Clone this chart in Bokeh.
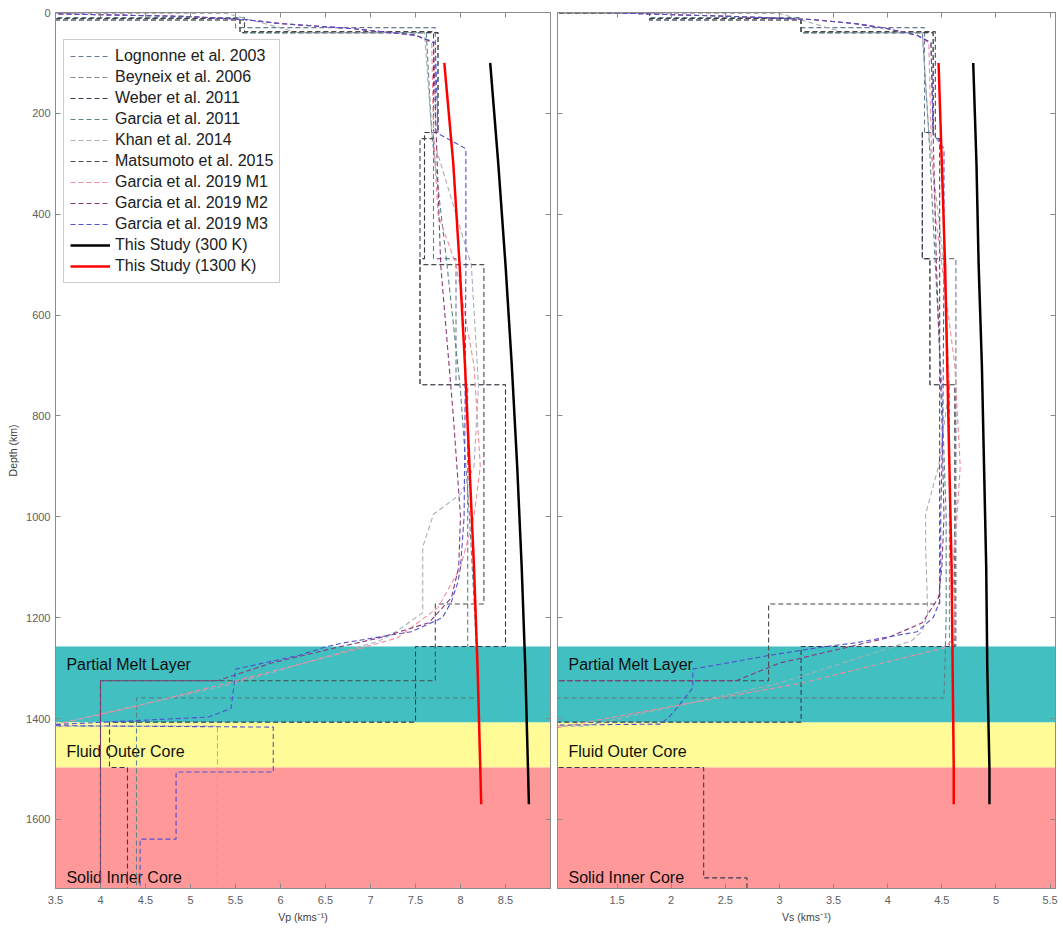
from bokeh.plotting import figure
from bokeh.models import Range1d, LinearAxis, FixedTicker, Legend, LegendItem
from bokeh.layouts import row
from bokeh.embed import file_html
from bokeh.resources import INLINE
from bokeh.core.properties import value

# ---------------- data ----------------
DEPTH_MAX = 1737
VP_RANGE = (3.5, 9.0)
VS_RANGE = (0.95, 5.55)
VP_TICKS = [3.5, 4, 4.5, 5, 5.5, 6, 6.5, 7, 7.5, 8, 8.5]
VS_TICKS = [1.5, 2, 2.5, 3, 3.5, 4, 4.5, 5, 5.5]
DEPTH_TICKS = [0, 200, 400, 600, 800, 1000, 1200, 1400, 1600]

LAYER_NAMES = ["Partial Melt Layer", "Fluid Outer Core", "Solid Inner Core"]
LAYER_TOP = [1257, 1407, 1497]
LAYER_BOTTOM = [1407, 1497, 1737]
LAYER_COLORS = ["#42bfc1", "#fffb96", "#ff9999"]
LAYER_LABEL_DEPTH = [1292, 1466, 1716]

# layered (step) models: boundaries + per-layer values
LOG_BOUNDS = [0, 1, 15, 30, 238, 488, 738, 1257]
LOG_VP = [1.0, 3.2, 5.5, 7.72, 7.7, 7.95, 8.08]
LOG_VS = [0.6, 1.8, 3.2, 4.34, 4.32, 4.63, 4.63]

BEY_BOUNDS = [0, 1, 12, 40, 238, 488, 738, 1257]
BEY_VP = [1.0, 3.2, 5.55, 7.75, 7.6, 7.55, 8.5]
BEY_VS = [0.6, 1.8, 3.2, 4.42, 4.32, 4.39, 4.57]

WEB_BOUNDS = [0, 1, 12, 40, 238, 488, 738, 1257, 1407, 1497, 1716, 1737]
WEB_VP = [1.0, 3.2, 5.55, 7.75, 7.6, 7.55, 8.5, 7.5, 4.1, 4.3, 4.3]
WEB_VS = [0.6, 1.8, 3.2, 4.42, 4.32, 4.39, 4.62, 3.2, 0.0, 2.3, 2.7]

MAT_BOUNDS = [0, 1, 15, 38, 250, 500, 1173, 1325, 1737]
MAT_VP = [1.0, 3.2, 5.6, 7.7, 7.55, 8.26, 7.72, 4.0]
MAT_VS = [0.6, 1.8, 3.2, 4.44, 4.48, 4.48, 2.9, 0.0]

# profile models: depth nodes + values
GAR11_D = [0, 1, 1, 10, 10, 40, 40, 240, 500, 750, 1000, 1200, 1359, 1359, 1737]
GAR11_VP = [1.0, 1.0, 3.2, 3.2, 5.6, 5.6, 7.62, 7.68, 7.85, 8.0, 8.1, 8.16, 8.2, 4.4, 4.4]
GAR11_VS = [0.6, 0.6, 1.8, 1.8, 3.2, 3.2, 4.32, 4.38, 4.44, 4.5, 4.54, 4.54, 4.52, 0.0, 0.0]

KHAN_D = [0, 2, 2, 40, 40, 240, 500, 740, 900, 955, 995, 1060, 1190, 1226, 1246, 1330, 1415, 1415, 1737]
KHAN_VP = [2.0, 2.0, 5.4, 6.2, 7.6, 7.68, 8.12, 8.2, 8.15, 8.0, 7.7, 7.58, 7.58, 7.3, 7.1, 5.5, 3.4, 5.3, 5.3]
KHAN_VS = [1.0, 1.0, 3.0, 3.6, 4.32, 4.38, 4.52, 4.57, 4.47, 4.4, 4.35, 4.35, 4.37, 4.32, 4.22, 3.0, 1.2, 0.0, 0.0]

G19M1_D = [0, 3, 8, 14, 22, 32, 45, 60, 240, 400, 500, 700, 900, 1000, 1100, 1180, 1240, 1260, 1330, 1380, 1420]
G19M1_VP = [3.0, 3.6, 5.0, 5.6, 6.0, 6.8, 7.5, 7.68, 7.7, 7.75, 7.95, 8.15, 8.22, 8.15, 8.0, 7.75, 7.3, 6.9, 5.4, 4.3, 3.3]
G19M1_VS = [1.4, 1.8, 2.6, 3.3, 3.7, 4.0, 4.27, 4.38, 4.4, 4.44, 4.5, 4.62, 4.67, 4.64, 4.6, 4.62, 4.62, 4.52, 3.2, 1.9, 0.9]

G19M2_D = [0, 3, 8, 14, 22, 32, 45, 60, 240, 500, 800, 1000, 1100, 1160, 1210, 1240, 1260, 1290, 1325, 1325, 1737]
G19M2_VP = [3.0, 3.6, 5.0, 5.6, 6.0, 6.8, 7.5, 7.7, 7.73, 7.78, 7.92, 8.0, 7.98, 7.9, 7.65, 7.1, 6.6, 5.9, 5.3, 4.0, 4.0]
G19M2_VS = [1.4, 1.8, 2.6, 3.3, 3.7, 4.0, 4.27, 4.4, 4.42, 4.45, 4.5, 4.52, 4.5, 4.47, 4.32, 4.0, 3.6, 3.0, 2.6, 0.0, 0.0]

G19M3_D = [0, 3, 8, 14, 22, 32, 45, 60, 240, 270, 500, 800, 1000, 1100, 1130, 1168, 1200, 1228, 1250, 1258, 1275,
           1302, 1339, 1380, 1397, 1411, 1414, 1417, 1506, 1506, 1639, 1639, 1737]
G19M3_VP = [3.0, 3.6, 5.0, 5.6, 6.0, 6.8, 7.5, 7.72, 7.75, 8.06, 8.06, 8.05, 8.04, 8.0, 7.97, 7.9, 7.8, 7.45, 6.7, 6.5, 6.2,
            5.5, 5.48, 5.45, 5.2, 3.6, 3.4, 5.92, 5.92, 4.84, 4.84, 4.44, 4.44]
G19M3_VS = [1.4, 1.8, 2.6, 3.3, 3.7, 4.0, 4.27, 4.4, 4.42, 4.52, 4.52, 4.51, 4.49, 4.49, 4.48, 4.48, 4.42, 4.27, 3.7, 3.4, 2.9,
            2.2, 2.2, 2.05, 1.98, 1.9, 0.5, 0.0, 0.0, 0.0, 0.0, 0.0, 0.0]

# This study
TS_D = [100, 300, 500, 700, 900, 1100, 1300, 1500, 1570]
TS300_VP = [8.33, 8.42, 8.50, 8.57, 8.63, 8.68, 8.72, 8.75, 8.76]
TS1300_VP = [7.82, 7.92, 7.99, 8.05, 8.10, 8.15, 8.19, 8.22, 8.23]
TS300_VS = [4.79, 4.82, 4.84, 4.87, 4.89, 4.91, 4.92, 4.94, 4.94]
TS1300_VS = [4.47, 4.50, 4.53, 4.55, 4.57, 4.59, 4.60, 4.61, 4.61]

MODEL_NAMES = ["Lognonne et al. 2003", "Beyneix et al. 2006", "Weber et al. 2011", "Garcia et al. 2011",
               "Khan et al. 2014", "Matsumoto et al. 2015", "Garcia et al. 2019 M1", "Garcia et al. 2019 M2",
               "Garcia et al. 2019 M3"]
MODEL_COLORS = ["#6a7898", "#8c8c8c", "#3a3a4c", "#5a8585", "#a7aeb8", "#4a4a4a", "#f08c9c", "#8a3a7c", "#5050d0"]
TS_NAMES = ["This Study (300 K)", "This Study (1300 K)"]
TS_COLORS = ["#000000", "#ff0000"]

FONT = "Liberation Sans"
FRAME_COLOR = "#8a8a8a"


def steps(bounds, vals):
    d, v = [], []
    for i, val in enumerate(vals):
        d += [bounds[i], bounds[i + 1]]
        v += [val, val]
    return d, v


def model_profiles():
    out = []
    for b, vp, vs in [(LOG_BOUNDS, LOG_VP, LOG_VS), (BEY_BOUNDS, BEY_VP, BEY_VS), (WEB_BOUNDS, WEB_VP, WEB_VS)]:
        d, p = steps(b, vp)
        _, s = steps(b, vs)
        out.append((d, p, s))
    out.append((GAR11_D, GAR11_VP, GAR11_VS))
    out.append((KHAN_D, KHAN_VP, KHAN_VS))
    d, p = steps(MAT_BOUNDS, MAT_VP)
    _, s = steps(MAT_BOUNDS, MAT_VS)
    out.append((d, p, s))
    out.append((G19M1_D, G19M1_VP, G19M1_VS))
    out.append((G19M2_D, G19M2_VP, G19M2_VS))
    out.append((G19M3_D, G19M3_VP, G19M3_VS))
    return out


PROFILES = model_profiles()


def hide_labels(ax):
    ax.major_label_text_color = None
    ax.major_label_text_font_size = "10px"
    ax.major_label_standoff = 0
    ax.axis_label = None


def tick_axis(ticks):
    ax = LinearAxis(ticker=FixedTicker(ticks=ticks), major_tick_in=5, major_tick_out=0,
                    minor_tick_line_color=None, axis_line_color=FRAME_COLOR, major_tick_line_color=FRAME_COLOR)
    hide_labels(ax)
    return ax


def make_panel(xr, xticks, which, width, bl, br, show_ylabels, xlabel):
    p = figure(width=width, height=942, x_range=Range1d(*xr), y_range=Range1d(DEPTH_MAX, 0),
               output_backend="svg", toolbar_location=None, min_border_left=bl, min_border_right=br,
               min_border_top=12, min_border_bottom=54, x_axis_location="below", y_axis_location="left")
    p.grid.visible = False
    p.outline_line_color = FRAME_COLOR
    p.background_fill_color = "white"
    p.border_fill_color = "white"
    for ax in p.xaxis:
        ax.ticker = FixedTicker(ticks=xticks)
        ax.axis_label = xlabel
    for ax in p.yaxis:
        ax.ticker = FixedTicker(ticks=DEPTH_TICKS)
        ax.axis_label = "Depth (km)"
    for ax in list(p.xaxis) + list(p.yaxis):
        ax.axis_line_color = FRAME_COLOR
        ax.major_tick_line_color = FRAME_COLOR
        ax.major_tick_in = 5
        ax.major_tick_out = 0
        ax.minor_tick_line_color = None
        ax.major_label_text_font = FONT
        ax.major_label_text_font_size = "11px"
        ax.major_label_text_color = "#606060"
        ax.axis_label_text_font = FONT
        ax.axis_label_text_font_size = "10.5px"
        ax.axis_label_text_font_style = "normal"
        ax.axis_label_text_color = "#404040"
        ax.major_label_standoff = 7
        ax.axis_label_standoff = 4
    for ax in p.yaxis:
        ax.major_label_standoff = 5
    if not show_ylabels:
        for ax in p.yaxis:
            hide_labels(ax)
    p.add_layout(tick_axis(xticks), "above")
    p.add_layout(tick_axis(DEPTH_TICKS), "right")

    for i in range(len(LAYER_NAMES)):
        p.hstrip(y0=[LAYER_TOP[i]], y1=[LAYER_BOTTOM[i]], fill_color=LAYER_COLORS[i], line_color=None)
    x_text = xr[0] + (xr[1] - xr[0]) * 0.022
    p.text(x=[x_text] * 3, y=LAYER_LABEL_DEPTH, text=LAYER_NAMES, text_font=value(FONT), text_font_size="16px",
           text_color="#101010", text_baseline="middle", text_align="left")

    renderers = []
    for i, (d, vp, vs) in enumerate(PROFILES):
        xs = vp if which == "vp" else vs
        r = p.line(xs, d, line_color=MODEL_COLORS[i], line_width=1.1, line_dash="5 3")
        renderers.append(r)
    ts = [TS300_VP, TS1300_VP] if which == "vp" else [TS300_VS, TS1300_VS]
    for i in range(2):
        r = p.line(ts[i], TS_D, line_color=TS_COLORS[i], line_width=2.5)
        renderers.append(r)
    return p, renderers


left, lr = make_panel(VP_RANGE, VP_TICKS, "vp", 552, 55, 2, True, "Vp (kms\u207b\u00b9)")
right_p, _ = make_panel(VS_RANGE, VS_TICKS, "vs", 511, 5, 8, False, "Vs (kms\u207b\u00b9)")

items = [LegendItem(label=n, renderers=[lr[i]]) for i, n in enumerate(MODEL_NAMES + TS_NAMES)]
legend = Legend(items=items, location=(8, 605), label_text_font=FONT, label_text_font_size="16px",
                label_text_color="#202020", glyph_width=40, glyph_height=14, label_height=20, spacing=1,
                padding=6, margin=0, border_line_color="#9a9a9a", background_fill_alpha=1.0,
                label_standoff=5)
left.add_layout(legend, "center")

layout = row(left, right_p)
open("out.html", "w").write(file_html(layout, INLINE))
